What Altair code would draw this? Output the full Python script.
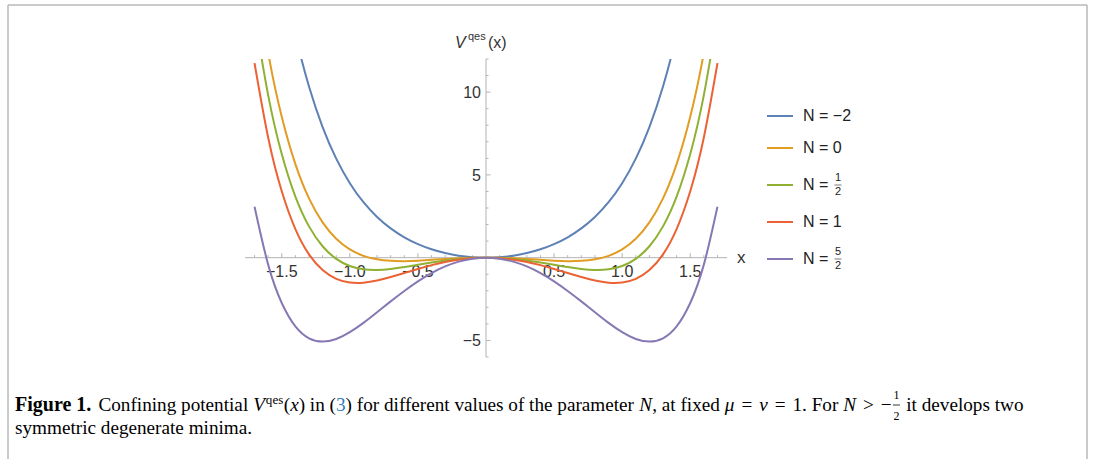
import altair as alt
import pandas as pd
import numpy as np

# ---------------------------------------------------------------------------
# Potential V^qes(x) sampled on a grid, one list per value of N
# ---------------------------------------------------------------------------
x_vals = [-1.7, -1.6, -1.5, -1.4, -1.3, -1.2, -1.1, -1.0, -0.9, -0.8, -0.7, -0.6,
          -0.5, -0.4, -0.3, -0.2, -0.1, 0.0, 0.1, 0.2, 0.3, 0.4, 0.5, 0.6, 0.7,
          0.8, 0.9, 1.0, 1.1, 1.2, 1.3, 1.4, 1.5, 1.6, 1.7]

v_n_m2 = [29.09, 22.62, 17.51, 13.49, 10.34, 7.89, 5.98, 4.50, 3.35, 2.46, 1.77, 1.23,
          0.82, 0.51, 0.28, 0.12, 0.03, 0.0, 0.03, 0.12, 0.28, 0.51, 0.82, 1.23, 1.77,
          2.46, 3.35, 4.50, 5.98, 7.89, 10.34, 13.49, 17.51, 22.62, 29.09]

v_n_0 = [17.53, 12.38, 8.51, 5.65, 3.58, 2.13, 1.14, 0.50, 0.11, -0.10, -0.19, -0.21,
         -0.18, -0.13, -0.08, -0.04, -0.01, 0.0, -0.01, -0.04, -0.08, -0.13, -0.18, -0.21,
         -0.19, -0.10, 0.11, 0.50, 1.14, 2.13, 3.58, 5.65, 8.51, 12.38, 17.53]

v_n_half = [14.64, 9.82, 6.26, 3.69, 1.89, 0.69, -0.07, -0.50, -0.70, -0.74, -0.68, -0.57,
            -0.43, -0.29, -0.17, -0.08, -0.02, 0.0, -0.02, -0.08, -0.17, -0.29, -0.43, -0.57,
            -0.68, -0.74, -0.70, -0.50, -0.07, 0.69, 1.89, 3.69, 6.26, 9.82, 14.64]

v_n_1 = [11.75, 7.26, 4.01, 1.73, 0.20, -0.75, -1.28, -1.50, -1.51, -1.38, -1.17, -0.93,
         -0.68, -0.45, -0.26, -0.12, -0.03, 0.0, -0.03, -0.12, -0.26, -0.45, -0.68, -0.93,
         -1.17, -1.38, -1.51, -1.50, -1.28, -0.75, 0.20, 1.73, 4.01, 7.26, 11.75]

v_n_5half = [3.08, -0.42, -2.74, -4.15, -4.87, -5.07, -4.91, -4.50, -3.94, -3.30, -2.64, -2.01,
             -1.43, -0.93, -0.53, -0.24, -0.06, 0.0, -0.06, -0.24, -0.53, -0.93, -1.43, -2.01,
             -2.64, -3.30, -3.94, -4.50, -4.91, -5.07, -4.87, -4.15, -2.74, -0.42, 3.08]

series_keys = ["m2", "0", "half", "1", "5half"]
series_values = [v_n_m2, v_n_0, v_n_half, v_n_1, v_n_5half]
series_colors = ["#5E81B5", "#E19C24", "#8FB032", "#EB6235", "#8778B3"]
# legend text: (plain value) or (numerator, denominator)
legend_values = [("−2",), ("0",), ("1", "2"), ("1",), ("5", "2")]

x_tick_values = [-1.5, -1.0, -0.5, 0.5, 1.0, 1.5]
x_tick_labels = ["−1.5", "−1.0", "−0.5", "0.5", "1.0", "1.5"]
y_tick_values = [-5, 5, 10]
y_tick_labels = ["−5", "5", "10"]

# ---------------------------------------------------------------------------
# Layout
# ---------------------------------------------------------------------------
W, H = 1095, 459
PL, PT = 245, 59          # plot-area origin on the page
PW, PH = 482, 298         # plot-area size
X_DOMAIN = [-1.77, 1.77]
Y_DOMAIN = [-6.0, 12.0]

xscale = alt.Scale(domain=X_DOMAIN, nice=False, zero=False)
yscale = alt.Scale(domain=Y_DOMAIN, nice=False, zero=False)

X0_PX = PW * (0 - X_DOMAIN[0]) / (X_DOMAIN[1] - X_DOMAIN[0])   # y axis position
Y0_PX = PH * (Y_DOMAIN[1] - 0) / (Y_DOMAIN[1] - Y_DOMAIN[0])   # x axis position

AXIS_COLOR = "#b3b3b3"
LABEL_COLOR = "#333333"
SANS = "Liberation Sans"
SERIF = "Liberation Serif"

one = pd.DataFrame({"k": [0]})


def text_at(px, py, txt, **style):
    """Text placed at page pixel coordinates."""
    base = dict(align="left", baseline="alphabetic", font=SANS, fontSize=16, color="black")
    base.update(style)
    return alt.Chart(one).mark_text(text=txt, **base).encode(
        x=alt.value(px - PL), y=alt.value(py - PT))


def rule_at(x1, y1, x2, y2, color, width):
    return alt.Chart(one).mark_rule(color=color, strokeWidth=width).encode(
        x=alt.value(x1 - PL), x2=alt.value(x2 - PL),
        y=alt.value(y1 - PT), y2=alt.value(y2 - PT))


layers = []

# --- frame round the figure -------------------------------------------------
FRAME = "#b8b8b8"
layers += [
    rule_at(8, 5, 1087, 5, FRAME, 1.5),
    rule_at(8, 5, 8, H + 2, FRAME, 1.5),
    rule_at(1087, 5, 1087, H + 2, FRAME, 1.5),
]

# --- axes through the origin ------------------------------------------------
axis_df = pd.DataFrame({"x0": [X_DOMAIN[0]], "x1": [X_DOMAIN[1]], "y": [0.0]})
layers.append(alt.Chart(axis_df).mark_rule(color=AXIS_COLOR, strokeWidth=1).encode(
    x=alt.X("x0:Q", scale=xscale, axis=None), x2="x1:Q",
    y=alt.Y("y:Q", scale=yscale, axis=None)))
yaxis_df = pd.DataFrame({"x": [0.0], "y0": [Y_DOMAIN[0]], "y1": [Y_DOMAIN[1]]})
layers.append(alt.Chart(yaxis_df).mark_rule(color=AXIS_COLOR, strokeWidth=1).encode(
    x=alt.X("x:Q", scale=xscale, axis=None),
    y=alt.Y("y0:Q", scale=yscale, axis=None), y2="y1:Q"))

x_minor = [round(v, 1) for v in np.arange(-1.7, 1.71, 0.1) if abs(v) > 1e-9]
x_minor = [v for v in x_minor if v not in x_tick_values]
y_minor = [v for v in range(-6, 13) if v != 0 and v not in y_tick_values]

for vals, length in ((x_minor, 2.5), (x_tick_values, 4.5)):
    layers.append(alt.Chart(pd.DataFrame({"v": vals})).mark_rule(
        color=AXIS_COLOR, strokeWidth=1).encode(
        x=alt.X("v:Q", scale=xscale, axis=None),
        y=alt.value(Y0_PX), y2=alt.value(Y0_PX - length)))
for vals, length in ((y_minor, 2.5), (y_tick_values, 4.5)):
    layers.append(alt.Chart(pd.DataFrame({"v": vals})).mark_rule(
        color=AXIS_COLOR, strokeWidth=1).encode(
        y=alt.Y("v:Q", scale=yscale, axis=None),
        x=alt.value(X0_PX), x2=alt.value(X0_PX + length)))

# tick labels
layers.append(alt.Chart(pd.DataFrame({"v": x_tick_values, "t": x_tick_labels})).mark_text(
    align="center", baseline="alphabetic", font=SANS, fontSize=16, color=LABEL_COLOR).encode(
    x=alt.X("v:Q", scale=xscale, axis=None), y=alt.value(Y0_PX + 19.5), text="t:N"))
layers.append(alt.Chart(pd.DataFrame({"v": y_tick_values, "t": y_tick_labels})).mark_text(
    align="right", baseline="alphabetic", font=SANS, fontSize=16, color=LABEL_COLOR, dy=6).encode(
    y=alt.Y("v:Q", scale=yscale, axis=None), x=alt.value(X0_PX - 5), text="t:N"))

# axis names
layers += [
    text_at(737, 263, "x", fontSize=17, color=LABEL_COLOR),
    text_at(455, 48, "V", fontSize=16, fontStyle="italic", color=LABEL_COLOR),
    text_at(468, 40, "qes", fontSize=11, color=LABEL_COLOR),
    text_at(488, 48, "(x)", fontSize=16, color=LABEL_COLOR),
]

# --- curves -----------------------------------------------------------------
rows = []
for key, vals in zip(series_keys, series_values):
    for i, (xv, vv) in enumerate(zip(x_vals, vals)):
        rows.append({"series": key, "x": xv, "v": vv, "i": i})
curves = pd.DataFrame(rows)

for key, color in zip(series_keys, series_colors):
    layers.append(alt.Chart(curves[curves.series == key]).mark_line(
        clip=True, strokeWidth=2, interpolate="natural", color=color).encode(
        x=alt.X("x:Q", scale=xscale, axis=None),
        y=alt.Y("v:Q", scale=yscale, axis=None),
        order="i:Q"))

# --- legend -----------------------------------------------------------------
LEG_ROWS = [116, 148, 185, 222, 259]
LEG_LINE_X = (767, 793)
LEG_TEXT_X = 803
for ypos, color, val in zip(LEG_ROWS, series_colors, legend_values):
    layers.append(rule_at(LEG_LINE_X[0], ypos, LEG_LINE_X[1], ypos, color, 2))
    if len(val) == 1:
        layers.append(text_at(LEG_TEXT_X, ypos, "N = " + val[0], baseline="middle",
                              fontSize=16, color="#222222"))
    else:
        layers.append(text_at(LEG_TEXT_X, ypos, "N =", baseline="middle",
                              fontSize=16, color="#222222"))
        fx = LEG_TEXT_X + 35
        layers += [
            text_at(fx, ypos - 2, val[0], align="center", baseline="bottom",
                    fontSize=11, color="#222222"),
            text_at(fx, ypos + 1, val[1], align="center", baseline="top",
                    fontSize=11, color="#222222"),
            rule_at(fx - 3.5, ypos, fx + 3.5, ypos, "#555555", 0.8),
        ]

# --- caption ----------------------------------------------------------------
REG_LOWER = dict(zip("abcdefghijklmnopqrstuvwxyz",
                     [444, 500, 444, 500, 444, 333, 500, 500, 278, 278, 500, 278, 778,
                      500, 500, 500, 500, 333, 389, 278, 500, 500, 722, 500, 500, 444]))
REG = dict(REG_LOWER)
REG.update({" ": 250, "(": 333, ")": 333, ",": 250, ".": 250, "=": 564, ">": 564,
            "−": 564, "C": 667, "F": 556, "N": 722, "V": 722})
REG.update({d: 500 for d in "0123456789"})
BOLD = dict(REG)
BOLD.update({"F": 611, "u": 556, "r": 444, "g": 500, "i": 278})
ITAL = {"V": 611, "x": 444, "N": 667, "μ": 520, "ν": 444}


def em_width(s, table):
    return sum(table.get(ch, 500) for ch in s) / 1000.0


CAP_SIZE = 19.2
BOLD_SIZE = 20
CAP_X = 15
LINE1_Y, LINE2_Y = 411, 434
SPACE = 0.25 * CAP_SIZE
MATH_SPACE = 0.36 * CAP_SIZE   # wider gaps round relations in the formula

segments = [
    ("Figure 1.", "bold", 0, 1),
    ("Confining potential", "reg", 0, 1),
    ("V", "ital", 0, 0),
    ("qes", "sup", 0, 0),
    ("(", "reg", 0, 0),
    ("x", "ital", 0, 0),
    (") in (", "reg", 0, 0),
    ("3", "link", 0, 0),
    (") for different values of the parameter", "reg", 0, 1),
    ("N", "ital", 0, 0),
    (", at fixed", "reg", 0, 1),
    ("μ", "ital", 0, 0),
    ("=", "reg", 1, 1),
    ("ν", "ital", 0, 0),
    ("=", "reg", 1, 1),
    ("1. For", "reg", 0, 1),
    ("N", "ital", 0, 0),
    (">", "reg", 1, 1),
    ("−", "reg", 0, 0),
    (("1", "2"), "frac", 0, 1),
    ("it develops two", "reg", 0, 0),
]

cursor = CAP_X
for seg, kind, pre, post in segments:
    cursor += pre * MATH_SPACE
    if kind == "frac":
        fx = cursor + 5
        layers += [
            text_at(fx, LINE1_Y - 12, seg[0], align="center", font=SERIF, fontSize=12),
            text_at(fx, LINE1_Y + 9, seg[1], align="center", font=SERIF, fontSize=12),
            rule_at(fx - 3.5, LINE1_Y - 6, fx + 3.5, LINE1_Y - 6, "black", 0.8),
        ]
        cursor += 10
    elif kind == "bold":
        layers.append(text_at(cursor, LINE1_Y, seg, font=SERIF, fontSize=BOLD_SIZE,
                              fontWeight="bold"))
        cursor += em_width(seg, BOLD) * BOLD_SIZE + 2
    elif kind == "ital":
        layers.append(text_at(cursor, LINE1_Y, seg, font=SERIF, fontSize=CAP_SIZE,
                              fontStyle="italic"))
        cursor += em_width(seg, ITAL) * CAP_SIZE
    elif kind == "sup":
        s = CAP_SIZE * 0.68
        layers.append(text_at(cursor + 1, LINE1_Y - 7, seg, font=SERIF, fontSize=s))
        cursor += em_width(seg, REG) * s + 1.5
    elif kind == "link":
        layers.append(text_at(cursor, LINE1_Y, seg, font=SERIF, fontSize=CAP_SIZE,
                              color="#2b7bbf"))
        cursor += em_width(seg, REG) * CAP_SIZE
    else:
        layers.append(text_at(cursor, LINE1_Y, seg, font=SERIF, fontSize=CAP_SIZE))
        cursor += em_width(seg, REG) * CAP_SIZE
    if pre and post:
        cursor += MATH_SPACE
    else:
        cursor += post * SPACE

layers.append(text_at(CAP_X, LINE2_Y, "symmetric degenerate minima.", font=SERIF,
                      fontSize=CAP_SIZE))

chart = alt.layer(*layers).properties(
    width=PW, height=PH,
    padding={"left": PL, "top": PT, "right": W - PL - PW, "bottom": H - PT - PH},
    autosize=alt.AutoSizeParams(type="none"),
    background="white",
).configure_view(stroke=None)

chart.save("out.html", embed_options={"renderer": "svg", "actions": False})
